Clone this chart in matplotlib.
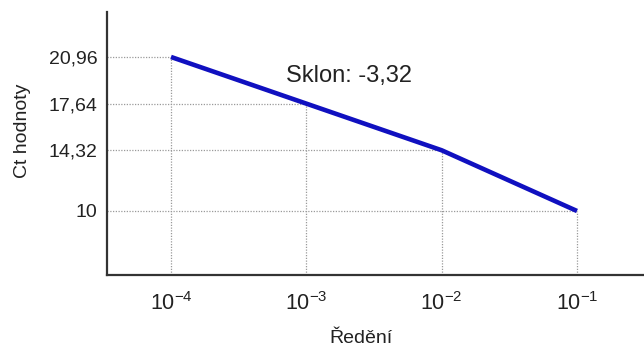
import matplotlib
matplotlib.use("Agg")
import matplotlib.pyplot as plt

# Data
dilution = [1e-4, 1e-3, 1e-2, 1e-1]
ct_values = [20.96, 17.64, 14.32, 10.0]
xtick_labels = [r"$\mathregular{10^{-4}}$", r"$\mathregular{10^{-3}}$",
                r"$\mathregular{10^{-2}}$", r"$\mathregular{10^{-1}}$"]
ytick_labels = ["20,96", "17,64", "14,32", "10"]
slope_text = "Sklon: -3,32"
xlabel = "Ředění"
ylabel = "Ct hodnoty"

plt.rcParams["font.family"] = ["Liberation Sans", "DejaVu Sans"]
plt.rcParams["mathtext.fontset"] = "custom"
plt.rcParams["mathtext.rm"] = "Liberation Sans"
plt.rcParams["mathtext.it"] = "Liberation Sans:italic"
plt.rcParams["mathtext.bf"] = "Liberation Sans:bold"

W, H = 644, 347
fig = plt.figure(figsize=(W / 100, H / 100), dpi=100)
ax = fig.add_axes([107 / W, (H - 275) / H, (W - 107) / W, (275 - 12) / H])

ax.set_xscale("log")
xmin, xmax = 10 ** -4.473, 10 ** -0.505
ymin, ymax = 5.445, 24.16
ax.set_xlim(xmin, xmax)
ax.set_ylim(ymin, ymax)

grid_kw = dict(colors="#9a9a9a", linestyles=(0, (1, 1.2)), linewidth=0.9, zorder=1)
ax.vlines(dilution, ymin, ct_values, **grid_kw)
ax.hlines(ct_values, xmin, dilution, **grid_kw)

ax.plot(dilution, ct_values, color="#1010c0", linewidth=3.3,
        solid_capstyle="butt", zorder=3)

ax.set_xticks(dilution)
ax.set_xticklabels(xtick_labels, fontsize=15.5, color="#222222")
ax.set_yticks(ct_values)
ax.set_yticklabels(ytick_labels, fontsize=14, color="#222222")
ax.minorticks_off()
ax.tick_params(axis="both", length=0)
ax.tick_params(axis="x", pad=12)
ax.tick_params(axis="y", pad=7)

for s in ["top", "right"]:
    ax.spines[s].set_visible(False)
for s in ["left", "bottom"]:
    ax.spines[s].set_color("#333333")
    ax.spines[s].set_linewidth(1.6)

ax.set_ylabel(ylabel, fontsize=14, color="#222222")
ax.yaxis.label.set_verticalalignment("center")
ax.yaxis.set_label_coords(-0.158, 0.548)
ax.set_xlabel(xlabel, fontsize=14, color="#222222")
ax.xaxis.label.set_verticalalignment("baseline")
ax.xaxis.set_label_coords(0.473, -0.2586)

ax.text(0.3333, 0.734, slope_text, transform=ax.transAxes, fontsize=17,
        color="#222222", ha="left", va="baseline")

fig.savefig("out.png", dpi=100)
